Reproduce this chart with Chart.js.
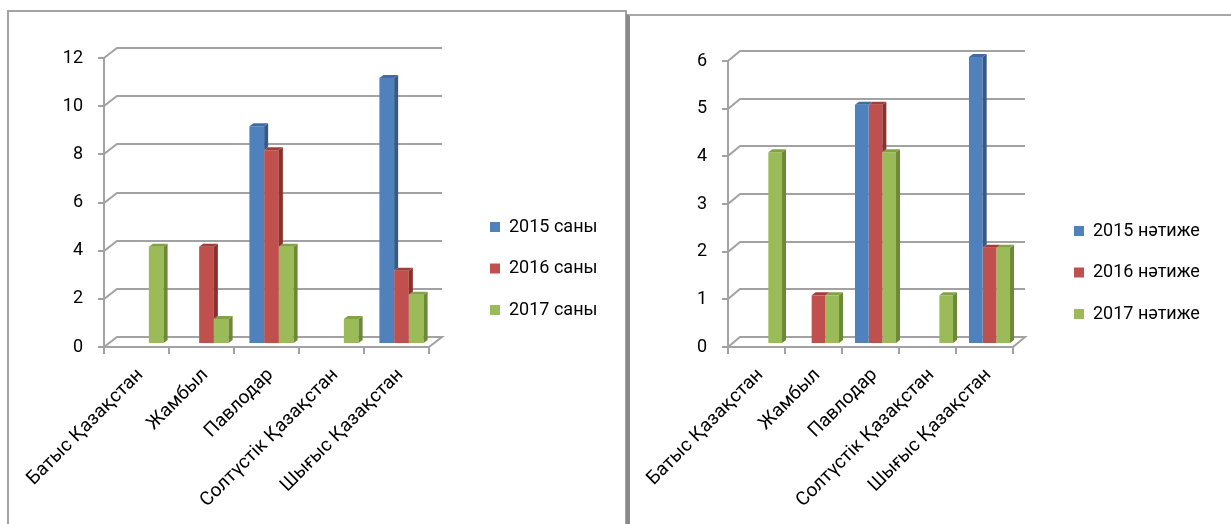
<!DOCTYPE html>
<html><head><meta charset="utf-8">
<script src="https://cdn.jsdelivr.net/npm/chart.js@4.4.1/dist/chart.umd.min.js"></script>
<style>
html,body{margin:0;padding:0;background:#fff;width:1231px;height:524px;overflow:hidden;position:relative;}
.frame{position:absolute;box-sizing:border-box;background:#fff;}
#f1{left:7px;top:10px;width:620px;height:600px;border:2px solid #a3a3a3;}
#f2{left:626px;top:14px;width:700px;height:600px;border:2px solid #a8a8a8;border-left:4px solid #8a8a8a;}
canvas{position:absolute;}
#c1{left:9px;top:12px;}
#c2{left:631px;top:16px;}
</style></head>
<body>
<div class="frame" id="f1"></div>
<div class="frame" id="f2"></div>
<canvas id="c1" width="616" height="512" style="width:616px;height:512px"></canvas>
<canvas id="c2" width="600" height="508" style="width:600px;height:508px"></canvas>
<script>
// ---- data ----
const categories = ['Батыс Қазақстан', 'Жамбыл', 'Павлодар', 'Солтүстік Қазақстан', 'Шығыс Қазақстан'];
const countNames = ['2015 саны', '2016 саны', '2017 саны'];
const resultNames = ['2015 нәтиже', '2016 нәтиже', '2017 нәтиже'];
const count2015 = [0, 0, 9, 0, 11];
const count2016 = [0, 4, 8, 0, 3];
const count2017 = [4, 1, 4, 1, 2];
const result2015 = [0, 0, 5, 0, 6];
const result2016 = [0, 1, 5, 0, 2];
const result2017 = [4, 1, 4, 1, 2];
const countAxisMax = 12, countAxisStep = 2;
const resultAxisMax = 6, resultAxisStep = 1;

// ---- style ----
const FRONT = ['#4f81bd', '#c0504d', '#9bbb59'];
const SIDE = ['#34598a', '#8a302e', '#6c8a36'];
const TOP = ['#3f6ca3', '#a33d3a', '#82a245'];
const FS = 18;
const XFS = 19;
const FAMILY = 'Roboto, "Noto Sans", sans-serif';

const threeD = {
  id: 'threeD',
  beforeDatasetsDraw(chart, args, o) {
    const ctx = chart.ctx, a = chart.chartArea, ys = chart.scales.y;
    ctx.save();
    ctx.strokeStyle = o.gridColor; ctx.lineWidth = 2; ctx.lineJoin = 'miter'; ctx.lineCap = 'butt';
    ys.ticks.forEach(t => {
      const y = Math.round(ys.getPixelForValue(t.value));
      ctx.beginPath();
      ctx.moveTo(a.left - 6, y); ctx.lineTo(a.left, y);
      ctx.lineTo(a.left + o.wallDx, y + o.wallDy);
      ctx.lineTo(a.right + o.wallDx, y + o.wallDy);
      if (t.value === ys.min) { ctx.lineTo(a.right, y); ctx.lineTo(a.left, y); }
      ctx.stroke();
    });
    ctx.beginPath();
    ctx.moveTo(a.left, Math.round(ys.getPixelForValue(ys.max)));
    ctx.lineTo(a.left, Math.round(ys.getPixelForValue(0)) + 2);
    ctx.stroke();
    const y0 = Math.round(ys.getPixelForValue(0));
    const n = chart.data.labels.length;
    ctx.beginPath();
    for (let i = 0; i <= n; i++) {
      const x = Math.round(a.left + (a.right - a.left) * i / n);
      ctx.moveTo(x, y0); ctx.lineTo(x, y0 + 7);
    }
    ctx.stroke();
    ctx.restore();
    ctx.save();
    ctx.translate(o.barDx, o.barDy);
  },
  afterDatasetDraw(chart, args, o) {
    const ctx = chart.ctx, i = args.index;
    const ds = chart.data.datasets[i];
    const nextDs = chart.data.datasets[i + 1];
    const nextMeta = nextDs ? chart.getDatasetMeta(i + 1) : null;
    args.meta.data.forEach((bar, j) => {
      if (!ds.data[j]) return;
      const p = bar.getProps(['x', 'y', 'base', 'width'], true);
      const l = p.x - p.width / 2, r = p.x + p.width / 2, d = o.depthX, dd = o.depthY;
      let yn = p.base;
      if (nextDs && nextDs.data[j]) yn = Math.max(p.y, nextMeta.data[j].getProps(['y'], true).y);
      ctx.fillStyle = SIDE[i];
      ctx.beginPath(); ctx.moveTo(r, p.y); ctx.lineTo(r + d, p.y - dd); ctx.lineTo(r + d, yn - dd); ctx.lineTo(r, yn); ctx.closePath(); ctx.fill();
      ctx.fillStyle = TOP[i];
      ctx.beginPath(); ctx.moveTo(l, p.y); ctx.lineTo(l + d, p.y - dd); ctx.lineTo(r + d, p.y - dd); ctx.lineTo(r, p.y); ctx.closePath(); ctx.fill();
    });
  },
  afterDatasetsDraw(chart) { chart.ctx.restore(); }
};

function build(id, names, series, max, step, g) {
  const font = { size: FS, family: FAMILY };
  const m = document.createElement('canvas').getContext('2d');
  m.font = 'normal ' + FS + 'px ' + FAMILY;
  const textW = Math.max(...names.map(t => m.measureText(t).width));
  const legendW = g.legPad + 10 + FS / 2 + textW + 10;
  const legendLeft = g.boxX - g.legPad;
  const padR = Math.max(0, g.W - legendLeft - legendW);
  const spacer = legendLeft - g.right;
  const titlePad = g.legY - FS / 2 - g.legPad - 12 - g.top;
  const xH = g.H - g.bottom;
  return new Chart(document.getElementById(id), {
    type: 'bar',
    data: {
      labels: categories,
      datasets: series.map((s, i) => ({
        label: names[i], data: s, backgroundColor: FRONT[i], borderWidth: 0,
        categoryPercentage: g.cat, barPercentage: 1.0, clip: false
      }))
    },
    options: {
      responsive: false, animation: false, events: [],
      layout: { padding: { left: g.left - 60, right: padR, top: g.top, bottom: 0 } },
      scales: {
        x: {
          grid: { display: false, drawTicks: false }, border: { display: false },
          ticks: { font: { size: XFS, family: FAMILY }, color: '#000', minRotation: 45, maxRotation: 45, autoSkip: false, padding: g.xPad, labelOffset: g.xOff },
          afterFit(s) { s.height = xH; s.paddingLeft = 0; s.paddingRight = 0; }
        },
        y: {
          min: 0, max: max,
          grid: { display: false, drawTicks: false }, border: { display: false },
          ticks: { stepSize: step, font, color: '#000', padding: g.yPad },
          afterFit(s) { s.width = 60; s.paddingTop = 0; s.paddingBottom = 0; }
        },
        y2: {
          position: 'right', display: true,
          grid: { display: false, drawTicks: false }, border: { display: false },
          ticks: { display: false },
          afterFit(s) { s.width = spacer; s.paddingTop = 0; s.paddingBottom = 0; }
        }
      },
      plugins: {
        legend: {
          position: 'right', align: 'start', maxWidth: 400,
          title: { display: true, text: '', font: { size: 10, family: FAMILY }, padding: { top: titlePad, bottom: 0 } },
          labels: { boxWidth: 10, boxHeight: 10, padding: g.legPad, font, color: '#000' }
        },
        tooltip: { enabled: false },
        threeD: { gridColor: '#a2a2a2', wallDx: g.wallDx, wallDy: g.wallDy, barDx: 5, barDy: -4, depthX: 4, depthY: 3 }
      }
    },
    plugins: [threeD]
  });
}

build('c1', countNames, [count2015, count2016, count2017], countAxisMax, countAxisStep,
  { W: 616, H: 512, left: 95, right: 420, top: 46, bottom: 335, boxX: 481, legPad: 23.5, legY: 215,
    yPad: 21, xPad: 17, xOff: 4, wallDx: 13, wallDy: -10, cat: 0.68 });
build('c2', resultNames, [result2015, result2016, result2017], resultAxisMax, resultAxisStep,
  { W: 600, H: 508, left: 97, right: 382, top: 45, bottom: 331, boxX: 443, legPad: 23.5, legY: 215,
    yPad: 21, xPad: 17, xOff: 4, wallDx: 12, wallDy: -10, cat: 0.72 });
</script>
</body></html>
